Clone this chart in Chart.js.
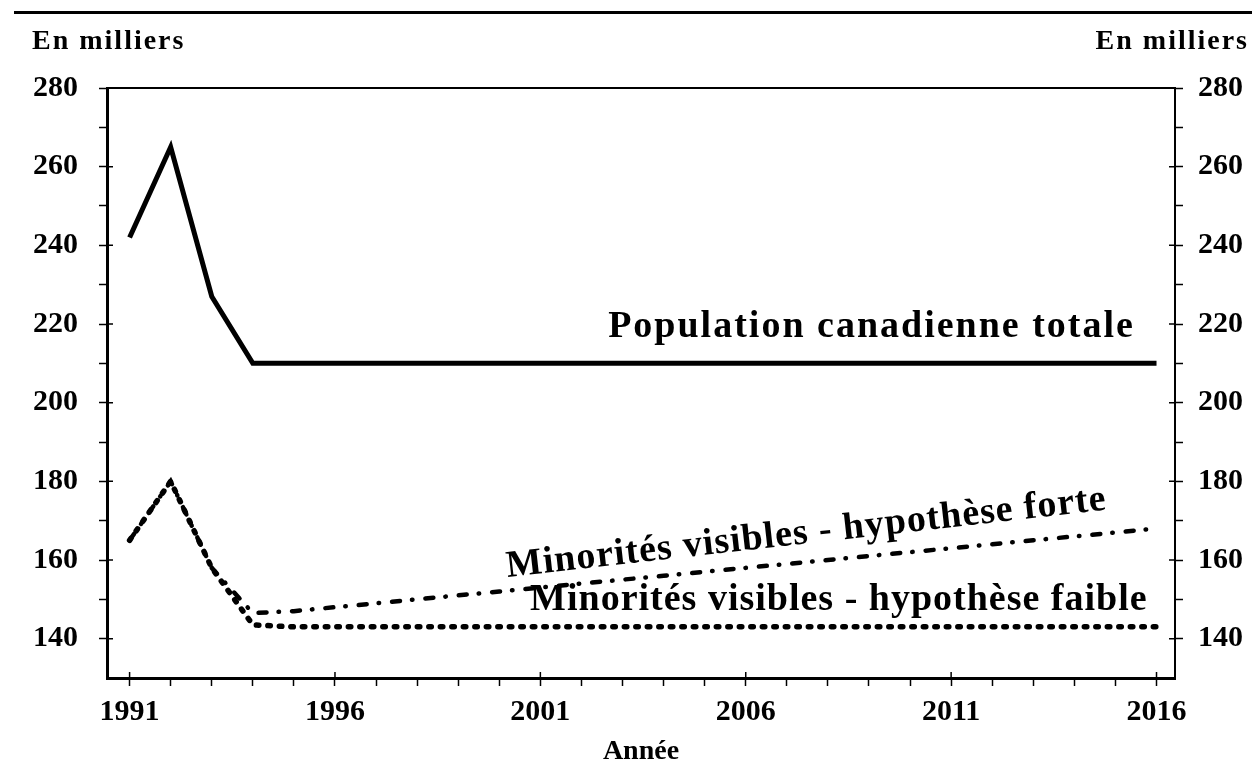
<!DOCTYPE html>
<html>
<head>
<meta charset="utf-8">
<script src="https://cdn.jsdelivr.net/npm/chart.js@4/dist/chart.umd.min.js"></script>
<style>
  body { margin: 0; background: #fff; }
  #wrap { width: 1252px; height: 780px; }
</style>
</head>
<body>
<div id="wrap"><canvas id="graphique" width="1252" height="780"></canvas></div>
<script>
// données (en milliers)
const annees = [1991, 1992, 1993, 1994, 1995, 1996, 1997, 1998, 1999, 2000, 2001, 2002, 2003,
                2004, 2005, 2006, 2007, 2008, 2009, 2010, 2011, 2012, 2013, 2014, 2015, 2016];
const populationTotale = [242, 265, 227, 210, 210, 210, 210, 210, 210, 210, 210, 210, 210,
                          210, 210, 210, 210, 210, 210, 210, 210, 210, 210, 210, 210, 210];
const minoritesForte = [165, 180, 158, 146.5, 147, 148, 149, 150, 151, 152, 153, 154, 155,
                        156, 157, 158, 159, 160, 161, 162, 163, 164, 165, 166, 167, 168];
const minoritesFaible = [165, 180, 158, 143.5, 143, 143, 143, 143, 143, 143, 143, 143, 143,
                         143, 143, 143, 143, 143, 143, 143, 143, 143, 143, 143, 143, 143];
const ticksY = [140, 150, 160, 170, 180, 190, 200, 210, 220, 230, 240, 250, 260, 270, 280];
const etiquettesX = [1991, 1996, 2001, 2006, 2011, 2016];

const POLICE = '"Liberation Serif", "Times New Roman", serif';

//* transforme deux listes en points {x, y}
const points = valeurs => annees.map((a, i) => ({ x: a, y: valeurs[i] }));

//* textes et traits dessinés à la main sur le graphique
const textes = {
    id: 'textes',
    afterDraw(chart) {
        const ctx = chart.ctx;
        const x = chart.scales.x;
        const y = chart.scales.y;
        const zone = chart.chartArea;
        ctx.save();
        ctx.fillStyle = '#000';
        ctx.strokeStyle = '#000';

        // ligne en haut de la page
        ctx.fillRect(14, 11, 1238, 3);

        // bordure du haut de la zone du graphique
        ctx.lineWidth = 2;
        ctx.beginPath();
        ctx.moveTo(zone.left, zone.top);
        ctx.lineTo(zone.right, zone.top);
        ctx.stroke();

        // petits traits vers l'intérieur pour les graduations principales
        ctx.lineWidth = 1.5;
        ctx.beginPath();
        ticksY.filter(v => v % 20 === 0).forEach(v => {
            const py = y.getPixelForValue(v);
            ctx.moveTo(zone.left, py); ctx.lineTo(zone.left + 6, py);
            ctx.moveTo(zone.right, py); ctx.lineTo(zone.right - 6, py);
        });
        etiquettesX.forEach(v => {
            const px = x.getPixelForValue(v);
            ctx.moveTo(px, zone.bottom); ctx.lineTo(px, zone.bottom - 6);
        });
        ctx.stroke();

        // "En milliers" des deux côtés
        ctx.font = 'bold 28px ' + POLICE;
        ctx.letterSpacing = '2px';
        ctx.textBaseline = 'alphabetic';
        ctx.textAlign = 'left';
        ctx.fillText('En milliers', 32, 49);
        ctx.textAlign = 'right';
        ctx.fillText('En milliers', 1249, 49);

        // étiquettes des séries
        ctx.textAlign = 'left';
        ctx.font = 'bold 38px ' + POLICE;
        ctx.letterSpacing = '2px';
        ctx.fillText('Population canadienne totale', x.getPixelForValue(2002.65), y.getPixelForValue(216.7));

        ctx.letterSpacing = '1px';
        ctx.fillText('Minorités visibles - hypothèse faible', x.getPixelForValue(2000.75), y.getPixelForValue(147.3));

        ctx.translate(x.getPixelForValue(2000.2), y.getPixelForValue(155.7));
        ctx.rotate(-6.4 * Math.PI / 180);
        ctx.fillText('Minorités visibles - hypothèse forte', 0, 0);
        ctx.restore();
    }
};

const axeY = (position, largeur, bordure, marge) => ({
    type: 'linear',
    position: position,
    min: 130,
    max: 280,
    afterBuildTicks: axe => { axe.ticks = ticksY.map(v => ({ value: v })); },
    afterFit: axe => { axe.width = largeur; },
    grid: { drawOnChartArea: false, tickLength: 8, tickColor: '#000', tickWidth: 1.5 },
    border: { color: '#000', width: bordure },
    ticks: {
        autoSkip: false,
        padding: marge,
        color: '#000',
        font: { family: POLICE, size: 30, weight: 'bold' },
        callback: v => (v % 20 === 0 ? String(v) : '')
    }
});

new Chart(document.getElementById('graphique').getContext('2d'), {
    type: 'line',
    data: {
        datasets: [
            {
                label: 'Population canadienne totale',
                data: points(populationTotale),
                borderColor: '#000',
                borderWidth: 5,
                borderJoinStyle: 'miter',
                pointRadius: 0,
                yAxisID: 'y'
            },
            {
                label: 'Minorités visibles - hypothèse forte',
                data: points(minoritesForte),
                borderColor: '#000',
                borderWidth: 4.5,
                borderCapStyle: 'round',
                borderDash: [8, 12, 0.5, 13],
                pointRadius: 0,
                yAxisID: 'y'
            },
            {
                label: 'Minorités visibles - hypothèse faible',
                data: points(minoritesFaible),
                borderColor: '#000',
                borderWidth: 5.5,
                borderCapStyle: 'round',
                borderDash: [2.5, 9],
                pointRadius: 0,
                yAxisID: 'y'
            }
        ]
    },
    options: {
        responsive: false,
        animation: false,
        devicePixelRatio: 1,
        layout: { padding: { top: 88, left: 0, right: 0, bottom: 0 } },
        plugins: { legend: { display: false }, tooltip: { enabled: false } },
        scales: {
            x: {
                type: 'linear',
                position: 'bottom',
                min: 1990.45,
                max: 2016.45,
                afterBuildTicks: axe => { axe.ticks = annees.map(v => ({ value: v })); },
                afterFit: axe => { axe.height = 102; },
                grid: { drawOnChartArea: false, tickLength: 8, tickColor: '#000', tickWidth: 1.5 },
                border: { color: '#000', width: 3 },
                ticks: {
                    autoSkip: false,
                    maxRotation: 0,
                    padding: 8,
                    color: '#000',
                    font: { family: POLICE, size: 30, weight: 'bold' },
                    callback: v => (etiquettesX.includes(v) ? String(v) : '')
                },
                title: {
                    display: true,
                    text: 'Année',
                    color: '#000',
                    font: { family: POLICE, size: 28, weight: 'bold' },
                    padding: { top: 0, bottom: 11 }
                }
            },
            y: axeY('left', 107, 3, 21),
            y2: axeY('right', 77, 2, 15)
        }
    },
    plugins: [textes]
});
</script>
</body>
</html>
